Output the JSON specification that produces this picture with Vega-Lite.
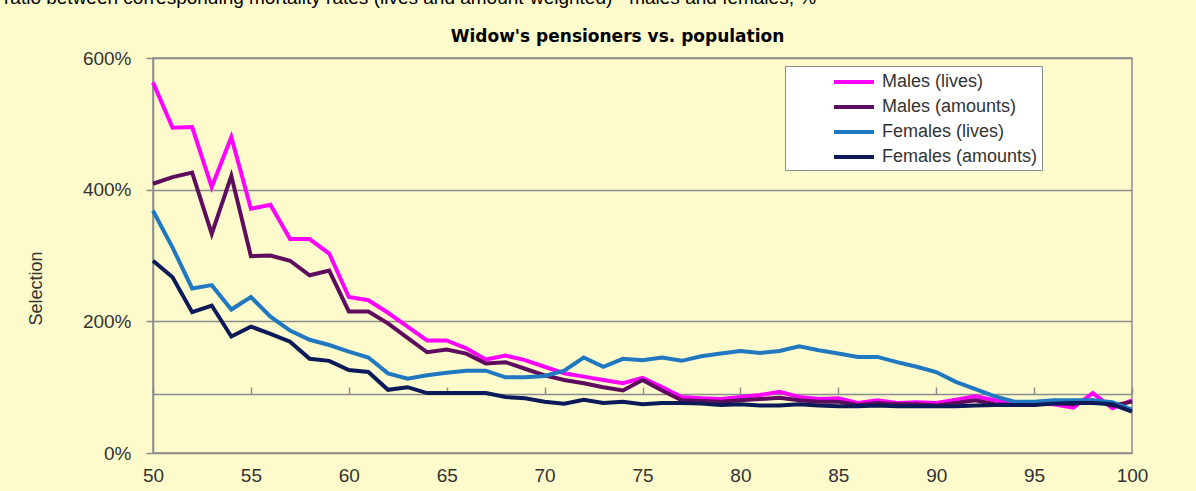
{
  "$schema": "https://vega.github.io/schema/vega-lite/v6.json",
  "width": 979,
  "height": 395,
  "autosize": {"type": "none"},
  "padding": {"left": 153, "top": 58, "right": 64, "bottom": 38},
  "background": "#fdfbcb",
  "config": {
    "view": {"fill": "#fdfbcb", "stroke": "#8c8c8c", "strokeWidth": 1.5},
    "font": "Liberation Sans"
  },
  "title": {
    "text": "ratio between corresponding mortality rates (lives and amount-weighted) - males and females, %",
    "anchor": "start",
    "frame": "group",
    "dx": -149,
    "dy": 16,
    "offset": 20,
    "baseline": "alphabetic",
    "fontSize": 19,
    "fontWeight": "normal",
    "font": "Liberation Sans",
    "color": "#000000"
  },
  "data": {
    "values": [
      {"age": 50, "Males (lives)": 563, "Males (amounts)": 409, "Females (lives)": 368, "Females (amounts)": 292},
      {"age": 51, "Males (lives)": 494, "Males (amounts)": 419, "Females (lives)": 312, "Females (amounts)": 267},
      {"age": 52, "Males (lives)": 495, "Males (amounts)": 426, "Females (lives)": 250, "Females (amounts)": 214},
      {"age": 53, "Males (lives)": 404, "Males (amounts)": 333, "Females (lives)": 255, "Females (amounts)": 224},
      {"age": 54, "Males (lives)": 480, "Males (amounts)": 421, "Females (lives)": 218, "Females (amounts)": 177},
      {"age": 55, "Males (lives)": 371, "Males (amounts)": 299, "Females (lives)": 237, "Females (amounts)": 192},
      {"age": 56, "Males (lives)": 377, "Males (amounts)": 300, "Females (lives)": 207, "Females (amounts)": 181},
      {"age": 57, "Males (lives)": 325, "Males (amounts)": 292, "Females (lives)": 186, "Females (amounts)": 169},
      {"age": 58, "Males (lives)": 325, "Males (amounts)": 270, "Females (lives)": 172, "Females (amounts)": 143},
      {"age": 59, "Males (lives)": 303, "Males (amounts)": 277, "Females (lives)": 164, "Females (amounts)": 140},
      {"age": 60, "Males (lives)": 237, "Males (amounts)": 215, "Females (lives)": 154, "Females (amounts)": 126},
      {"age": 61, "Males (lives)": 232, "Males (amounts)": 215, "Females (lives)": 145, "Females (amounts)": 123},
      {"age": 62, "Males (lives)": 213, "Males (amounts)": 197, "Females (lives)": 121, "Females (amounts)": 96},
      {"age": 63, "Males (lives)": 192, "Males (amounts)": 175, "Females (lives)": 113, "Females (amounts)": 100},
      {"age": 64, "Males (lives)": 171, "Males (amounts)": 153, "Females (lives)": 118, "Females (amounts)": 91},
      {"age": 65, "Males (lives)": 171, "Males (amounts)": 157, "Females (lives)": 122, "Females (amounts)": 91},
      {"age": 66, "Males (lives)": 159, "Males (amounts)": 151, "Females (lives)": 125, "Females (amounts)": 91},
      {"age": 67, "Males (lives)": 142, "Males (amounts)": 136, "Females (lives)": 125, "Females (amounts)": 91},
      {"age": 68, "Males (lives)": 148, "Males (amounts)": 138, "Females (lives)": 115, "Females (amounts)": 85},
      {"age": 69, "Males (lives)": 141, "Males (amounts)": 128, "Females (lives)": 115, "Females (amounts)": 83},
      {"age": 70, "Males (lives)": 131, "Males (amounts)": 118, "Females (lives)": 117, "Females (amounts)": 78},
      {"age": 71, "Males (lives)": 121, "Males (amounts)": 111, "Females (lives)": 125, "Females (amounts)": 75},
      {"age": 72, "Males (lives)": 116, "Males (amounts)": 106, "Females (lives)": 145, "Females (amounts)": 81},
      {"age": 73, "Males (lives)": 111, "Males (amounts)": 100, "Females (lives)": 131, "Females (amounts)": 76},
      {"age": 74, "Males (lives)": 106, "Males (amounts)": 95, "Females (lives)": 143, "Females (amounts)": 78},
      {"age": 75, "Males (lives)": 114, "Males (amounts)": 111, "Females (lives)": 141, "Females (amounts)": 74},
      {"age": 76, "Males (lives)": 100, "Males (amounts)": 95, "Females (lives)": 145, "Females (amounts)": 76},
      {"age": 77, "Males (lives)": 85, "Males (amounts)": 80, "Females (lives)": 140, "Females (amounts)": 76},
      {"age": 78, "Males (lives)": 83, "Males (amounts)": 79, "Females (lives)": 147, "Females (amounts)": 75},
      {"age": 79, "Males (lives)": 82, "Males (amounts)": 78, "Females (lives)": 151, "Females (amounts)": 73},
      {"age": 80, "Males (lives)": 85, "Males (amounts)": 80, "Females (lives)": 155, "Females (amounts)": 74},
      {"age": 81, "Males (lives)": 88, "Males (amounts)": 82, "Females (lives)": 152, "Females (amounts)": 72},
      {"age": 82, "Males (lives)": 93, "Males (amounts)": 84, "Females (lives)": 155, "Females (amounts)": 72},
      {"age": 83, "Males (lives)": 85, "Males (amounts)": 80, "Females (lives)": 162, "Females (amounts)": 74},
      {"age": 84, "Males (lives)": 82, "Males (amounts)": 78, "Females (lives)": 156, "Females (amounts)": 72},
      {"age": 85, "Males (lives)": 83, "Males (amounts)": 78, "Females (lives)": 151, "Females (amounts)": 71},
      {"age": 86, "Males (lives)": 76, "Males (amounts)": 73, "Females (lives)": 146, "Females (amounts)": 71},
      {"age": 87, "Males (lives)": 80, "Males (amounts)": 76, "Females (lives)": 146, "Females (amounts)": 72},
      {"age": 88, "Males (lives)": 76, "Males (amounts)": 74, "Females (lives)": 138, "Females (amounts)": 71},
      {"age": 89, "Males (lives)": 77, "Males (amounts)": 74, "Females (lives)": 131, "Females (amounts)": 71},
      {"age": 90, "Males (lives)": 76, "Males (amounts)": 72, "Females (lives)": 123, "Females (amounts)": 71},
      {"age": 91, "Males (lives)": 81, "Males (amounts)": 76, "Females (lives)": 108, "Females (amounts)": 71},
      {"age": 92, "Males (lives)": 86, "Males (amounts)": 80, "Females (lives)": 97, "Females (amounts)": 72},
      {"age": 93, "Males (lives)": 80, "Males (amounts)": 74, "Females (lives)": 86, "Females (amounts)": 73},
      {"age": 94, "Males (lives)": 75, "Males (amounts)": 73, "Females (lives)": 78, "Females (amounts)": 73},
      {"age": 95, "Males (lives)": 75, "Males (amounts)": 74, "Females (lives)": 78, "Females (amounts)": 73},
      {"age": 96, "Males (lives)": 74, "Males (amounts)": 76, "Females (lives)": 80, "Females (amounts)": 75},
      {"age": 97, "Males (lives)": 69, "Males (amounts)": 74, "Females (lives)": 80, "Females (amounts)": 76},
      {"age": 98, "Males (lives)": 91, "Males (amounts)": 80, "Females (lives)": 80, "Females (amounts)": 76},
      {"age": 99, "Males (lives)": 68, "Males (amounts)": 72, "Females (lives)": 77, "Females (amounts)": 74},
      {"age": 100, "Males (lives)": 80, "Males (amounts)": 78, "Females (lives)": 66, "Females (amounts)": 63}
    ]
  },
  "transform": [
    {"fold": ["Males (lives)", "Males (amounts)", "Females (lives)", "Females (amounts)"], "as": ["series", "value"]}
  ],
  "resolve": {"axis": {"x": "independent"}},
  "layer": [
    {
      "mark": {"type": "line", "strokeWidth": 4},
      "encoding": {
        "x": {
          "field": "age",
          "type": "quantitative",
          "scale": {"domain": [50, 100], "nice": false, "zero": false},
          "axis": {
            "orient": "bottom",
            "values": [50, 55, 60, 65, 70, 75, 80, 85, 90, 95, 100],
            "domain": false,
            "ticks": false,
            "grid": false,
            "labelFlush": false,
            "labelPadding": 13,
            "labelFontSize": 19,
            "labelColor": "#333333",
            "labelFont": "Liberation Sans",
            "title": null
          }
        },
        "y": {
          "field": "value",
          "type": "quantitative",
          "scale": {"domain": [0, 600], "nice": false},
          "axis": {
            "values": [0, 200, 400, 600],
            "labelExpr": "datum.value + '%'",
            "domain": true,
            "domainColor": "#8c8c8c",
            "domainWidth": 1.5,
            "ticks": true,
            "tickSize": 7,
            "tickColor": "#8c8c8c",
            "tickWidth": 1.5,
            "grid": true,
            "gridColor": "#8c8c8c",
            "gridWidth": 1.5,
            "gridOpacity": 1,
            "labelPadding": 15,
            "labelFontSize": 19,
            "labelColor": "#333333",
            "labelFont": "Liberation Sans",
            "title": "Selection",
            "titleFont": "Liberation Sans",
            "titleFontSize": 18,
            "titleFontWeight": "normal",
            "titleColor": "#333333",
            "titleX": -117,
            "titleY": 230,
            "titleAlign": "center",
            "titleBaseline": "middle",
            "titleAngle": -90
          }
        },
        "color": {
          "field": "series",
          "type": "nominal",
          "scale": {
            "domain": ["Males (lives)", "Males (amounts)", "Females (lives)", "Females (amounts)"],
            "range": ["#ff00ff", "#5e0c5e", "#1f78c0", "#0c1a5a"]
          },
          "legend": {
            "orient": "none",
            "legendX": 632,
            "legendY": 8,
            "title": null,
            "fillColor": "#ffffff",
            "strokeColor": "#8c8c8c",
            "padding": 4,
            "symbolType": "M-2,0H2",
            "symbolSize": 400,
            "symbolStrokeWidth": 4,
            "symbolOffset": 53,
            "labelOffset": 16,
            "labelFont": "Liberation Sans",
            "labelFontSize": 18,
            "labelColor": "#333333",
            "rowPadding": 4
          }
        }
      }
    },
    {
      "mark": {"type": "point", "opacity": 0},
      "encoding": {
        "x": {
          "field": "age",
          "type": "quantitative",
          "scale": {"domain": [50, 100], "nice": false, "zero": false},
          "axis": {
            "orient": "top",
            "offset": -336,
            "values": [50, 55, 60, 65, 70, 75, 80, 85, 90, 95, 100],
            "labels": false,
            "grid": false,
            "domain": true,
            "domainColor": "#8c8c8c",
            "domainWidth": 1.5,
            "ticks": true,
            "tickSize": 7,
            "tickColor": "#8c8c8c",
            "tickWidth": 1.5,
            "title": "Widow's pensioners vs. population",
            "titleFont": "DejaVu Sans",
            "titleFontSize": 17,
            "titleFontWeight": "bold",
            "titleColor": "#000000",
            "titleX": 464,
            "titleY": -358,
            "titleAlign": "center",
            "titleBaseline": "middle"
          }
        }
      }
    }
  ]
}
